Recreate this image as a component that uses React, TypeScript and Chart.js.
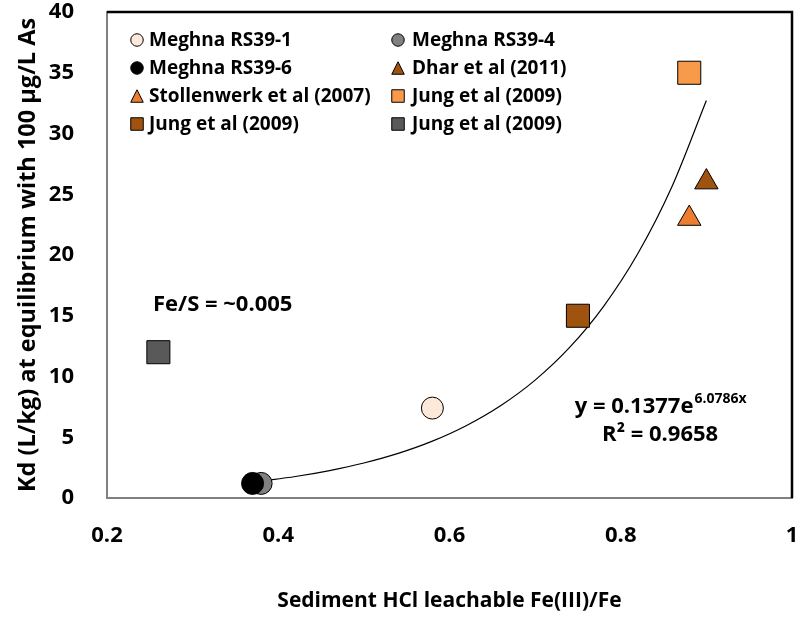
import React, { useEffect, useRef } from "react";
import { Chart, registerables } from "chart.js";

Chart.register(...registerables);

// ---- Data ----
const seriesNames = [
  "Meghna RS39-1",
  "Meghna RS39-4",
  "Meghna RS39-6",
  "Dhar et al (2011)",
  "Stollenwerk et al (2007)",
  "Jung et al (2009)",
  "Jung et al (2009)",
  "Jung et al (2009)",
];
const seriesX = [0.58, 0.38, 0.37, 0.9, 0.88, 0.88, 0.75, 0.26];
const seriesY = [7.4, 1.2, 1.2, 26, 23, 35, 15, 12];
const seriesShapes = ["circle", "circle", "circle", "triangle", "triangle", "rect", "rect", "rect"];
const seriesColors = ["#FDE9D9", "#808080", "#000000", "#A0520F", "#ED7D31", "#F79A4A", "#A0520F", "#595959"];

// Exponential trendline
const trendX = [0.38, 0.42, 0.46, 0.5, 0.54, 0.58, 0.62, 0.66, 0.7, 0.74, 0.78, 0.82, 0.86, 0.9];
const trendY = [1.39, 1.77, 2.26, 2.88, 3.67, 4.68, 5.97, 7.61, 9.7, 12.37, 15.78, 20.12, 25.66, 32.72];

const xTicks = [0.2, 0.4, 0.6, 0.8, 1];
const yTicks = [0, 5, 10, 15, 20, 25, 30, 35, 40];

const xTitle = "Sediment HCl leachable Fe(III)/Fe";
const yTitle = "Kd (L/kg) at equilibrium with 100 µg/L As";
const noteText = "Fe/S = ~0.005";
const eqMain = "y = 0.1377e";
const eqSup = "6.0786x";
const r2Text = "R² = 0.9658";

const FONT = "'Open Sans', 'DejaVu Sans', sans-serif";

function drawMarker(ctx: CanvasRenderingContext2D, shape: string, x: number, y: number, s: number, fill: string) {
  ctx.save();
  ctx.fillStyle = fill;
  ctx.strokeStyle = "#000";
  ctx.lineWidth = 1;
  ctx.beginPath();
  if (shape === "circle") {
    ctx.arc(x, y, s / 2, 0, Math.PI * 2);
  } else if (shape === "triangle") {
    ctx.moveTo(x, y - s / 2);
    ctx.lineTo(x + s / 2, y + s / 2);
    ctx.lineTo(x - s / 2, y + s / 2);
    ctx.closePath();
  } else {
    ctx.rect(x - s / 2, y - s / 2, s, s);
  }
  ctx.fill();
  ctx.stroke();
  ctx.restore();
}

const overlayPlugin = {
  id: "overlay",
  afterDatasetsDraw(chart: any) {
    const { ctx, chartArea } = chart;
    const { left, top, right, bottom } = chartArea;
    // frame: top and right black
    ctx.save();
    ctx.strokeStyle = "#000";
    ctx.lineWidth = 2.5;
    ctx.beginPath();
    ctx.moveTo(left, top);
    ctx.lineTo(right, top);
    ctx.lineTo(right, bottom);
    ctx.stroke();
    ctx.restore();

    // legend
    ctx.save();
    ctx.font = `bold 19px ${FONT}`;
    ctx.fillStyle = "#000";
    ctx.textBaseline = "middle";
    ctx.textAlign = "left";
    seriesNames.forEach((name, i) => {
      const col = i % 2;
      const row = Math.floor(i / 2);
      const mx = left + (col === 0 ? 30 : 291);
      const tx = left + (col === 0 ? 42 : 305);
      const y = top + 28 + row * 28;
      drawMarker(ctx, seriesShapes[i], mx, y, 12.5, seriesColors[i]);
      ctx.fillText(name, tx, y + 1);
    });
    ctx.restore();

    // annotations
    const xs = chart.scales.x;
    const ys = chart.scales.y;
    ctx.save();
    ctx.fillStyle = "#000";
    ctx.textBaseline = "middle";
    ctx.font = `bold 22px ${FONT}`;
    ctx.textAlign = "left";
    ctx.fillText(noteText, xs.getPixelForValue(0.2537), ys.getPixelForValue(15.9));

    const cx = xs.getPixelForValue(0.846);
    const ey = ys.getPixelForValue(7.49);
    const mainW = ctx.measureText(eqMain).width;
    ctx.font = `bold 14px ${FONT}`;
    const supW = ctx.measureText(eqSup).width;
    const start = cx - (mainW + supW) / 2;
    ctx.font = `bold 22px ${FONT}`;
    ctx.fillText(eqMain, start, ey);
    ctx.font = `bold 14px ${FONT}`;
    ctx.fillText(eqSup, start + mainW + 1, ey - 8);
    ctx.font = `bold 22px ${FONT}`;
    ctx.textAlign = "center";
    ctx.fillText(r2Text, cx, ys.getPixelForValue(5.19));
    ctx.restore();
  },
};

export default function App() {
  const ref = useRef<HTMLCanvasElement | null>(null);
  useEffect(() => {
    if (!ref.current) return;
    const pointDatasets = seriesNames.map((name, i) => ({
      type: "scatter" as const,
      label: name,
      data: [{ x: seriesX[i], y: seriesY[i] }],
      pointStyle: seriesShapes[i],
      pointRadius: seriesShapes[i] === "circle" ? 11 : seriesShapes[i] === "rect" ? 16.3 : 13.5,
      pointHoverRadius: 11,
      backgroundColor: seriesColors[i],
      borderColor: "#000",
      borderWidth: 1,
      order: 8 - i,
    }));
    const chart = new Chart(ref.current, {
      type: "scatter",
      data: {
        datasets: [
          ...pointDatasets,
          {
            type: "line" as const,
            label: "trend",
            data: trendX.map((x, i) => ({ x, y: trendY[i] })),
            borderColor: "#000",
            borderWidth: 1.2,
            pointRadius: 0,
            fill: false,
            cubicInterpolationMode: "monotone",
            order: 20,
          },
        ] as any,
      },
      options: {
        animation: false,
        responsive: false,
        layout: { autoPadding: false, padding: { top: 12, right: 8, left: 0, bottom: 0 } },
        plugins: { legend: { display: false }, tooltip: { enabled: false } },
        scales: {
          x: {
            type: "linear",
            min: 0.2,
            max: 1,
            afterBuildTicks: (scale: any) => {
              scale.ticks = xTicks.map((v) => ({ value: v }));
            },
            afterFit: (scale: any) => {
              scale.height = 121;
              scale.paddingLeft = 0;
              scale.paddingRight = 0;
            },
            grid: { display: false },
            border: { display: true, color: "#808080", width: 2 },
            ticks: {
              color: "#000",
              font: { family: FONT, size: 22, weight: "bold" },
              padding: 17,
              callback: (v: any) => String(Number(Number(v).toFixed(1))),
            },
            title: {
              display: true,
              text: xTitle,
              color: "#000",
              font: { family: FONT, size: 21, weight: "bold" },
              padding: { top: 0, bottom: 5 },
            },
          },
          y: {
            type: "linear",
            min: 0,
            max: 40,
            afterBuildTicks: (scale: any) => {
              scale.ticks = yTicks.map((v) => ({ value: v }));
            },
            afterFit: (scale: any) => {
              scale.width = 107;
              scale.paddingTop = 0;
              scale.paddingBottom = 0;
            },
            grid: { display: false },
            border: { display: true, color: "#808080", width: 2 },
            ticks: {
              color: "#000",
              font: { family: FONT, size: 22, weight: "bold" },
              padding: 25,
            },
            title: {
              display: true,
              text: yTitle,
              color: "#000",
              font: { family: FONT, size: 23.5, weight: "bold" },
              padding: { top: 14, bottom: 0 },
            },
          },
        },
      },
      plugins: [overlayPlugin],
    } as any);
    return () => chart.destroy();
  }, []);
  return (
    <div style={{ position: "fixed", left: 0, top: 0, width: 800, height: 619, background: "#fff" }}>
      <canvas ref={ref} width={800} height={619} style={{ display: "block", width: 800, height: 619 }} />
    </div>
  );
}
